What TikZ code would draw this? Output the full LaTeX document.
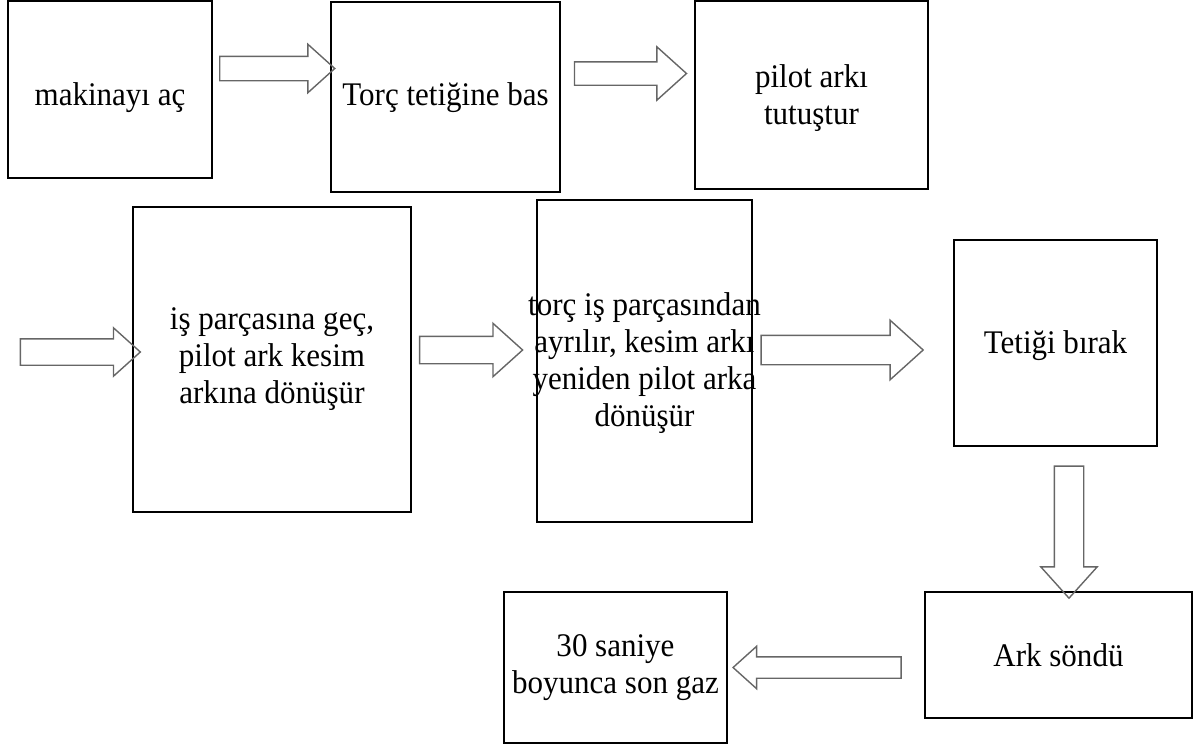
\documentclass[tikz,border=0pt]{standalone}
\usepackage{fontspec}
\setmainfont{Liberation Serif}[FakeStretch=0.94]
\usetikzlibrary{shapes.arrows}

\begin{document}
\begin{tikzpicture}[x=1pt, y=-1pt,
  stepbox/.style={draw, line width=1.6pt, inner sep=0pt},
  steptext/.style={inner sep=0pt, align=center, font=\fontsize{33}{37}\selectfont},
  blockarrow/.style={single arrow, draw=black!60, line width=1.4pt, single arrow tip angle=84, inner xsep=0pt}]
\useasboundingbox (0,0) rectangle (1197,747); % page
% first row
\node[stepbox, minimum width=204pt, minimum height=177pt] (mak) at (110,89.5) {};
\node[steptext] (maktext) at ([yshift=-8pt]mak.center) {makinay\i{} aç};
\node[stepbox, minimum width=229pt, minimum height=190pt] (torc) at (445.5,97) {};
\node[steptext] (torctext) at ([yshift=-1pt]torc.center) {Torç tetiğine bas};
\node[stepbox, minimum width=233pt, minimum height=188pt] (pilot) at (811.5,95) {};
\node[steptext] (pilottext) at ([yshift=-3pt]pilot.center) {pilot ark\i{}\\ tutuştur};
% second row
\node[stepbox, minimum width=278pt, minimum height=305pt] (gec) at (272,359.5) {};
\node[steptext] (gectext) at (gec.center) {iş parçasına geç,\\ pilot ark kesim\\ arkına dönüşür};
\node[stepbox, minimum width=215pt, minimum height=322pt] (ayril) at (644.5,361) {};
\node[steptext] (ayriltext) at ([yshift=-2pt]ayril.center) {\makebox[200pt]{torç iş parçasından}\\ \makebox[200pt]{ayrılır, kesim arkı}\\ \makebox[200pt]{yeniden pilot arka}\\ dönüşür};
\node[stepbox, minimum width=203pt, minimum height=206pt] (birak) at (1055.5,343) {};
\node[steptext] (biraktext) at ([yshift=-3pt]birak.center) {Tetiği bırak};
% last row
\node[stepbox, minimum width=267pt, minimum height=126pt] (sondu) at (1058.5,655) {};
\node[steptext] (sondutext) at (sondu.center) {Ark söndü};
\node[stepbox, minimum width=223pt, minimum height=151pt] (gaz) at (615.5,667.5) {};
\node[steptext] (gaztext) at (gaz.center) {30 saniye\\ boyunca son gaz};
% block arrows
\node[blockarrow, minimum height=115pt, inner ysep=11.5pt, single arrow head extend=12pt] (a1) at (270.5,68.5) {};
\node[blockarrow, minimum height=112pt, inner ysep=11pt, single arrow head extend=15pt] (a2) at (624,73.5) {};
\node[blockarrow, minimum height=120pt, inner ysep=12.5pt, single arrow head extend=11pt] (a3) at (73,352) {};
\node[blockarrow, minimum height=103pt, inner ysep=13pt, single arrow head extend=13pt] (a4) at (463.5,350) {};
\node[blockarrow, minimum height=162pt, inner ysep=14pt, single arrow head extend=15pt] (a5) at (834,350) {};
\node[blockarrow, rotate=-90, minimum height=132pt, inner ysep=14pt, single arrow head extend=13.5pt] (a6) at (1069,524) {};
\node[blockarrow, rotate=180, minimum height=168pt, inner ysep=10pt, single arrow head extend=10.5pt] (a7) at (823,667.5) {};
\end{tikzpicture}
\end{document}
